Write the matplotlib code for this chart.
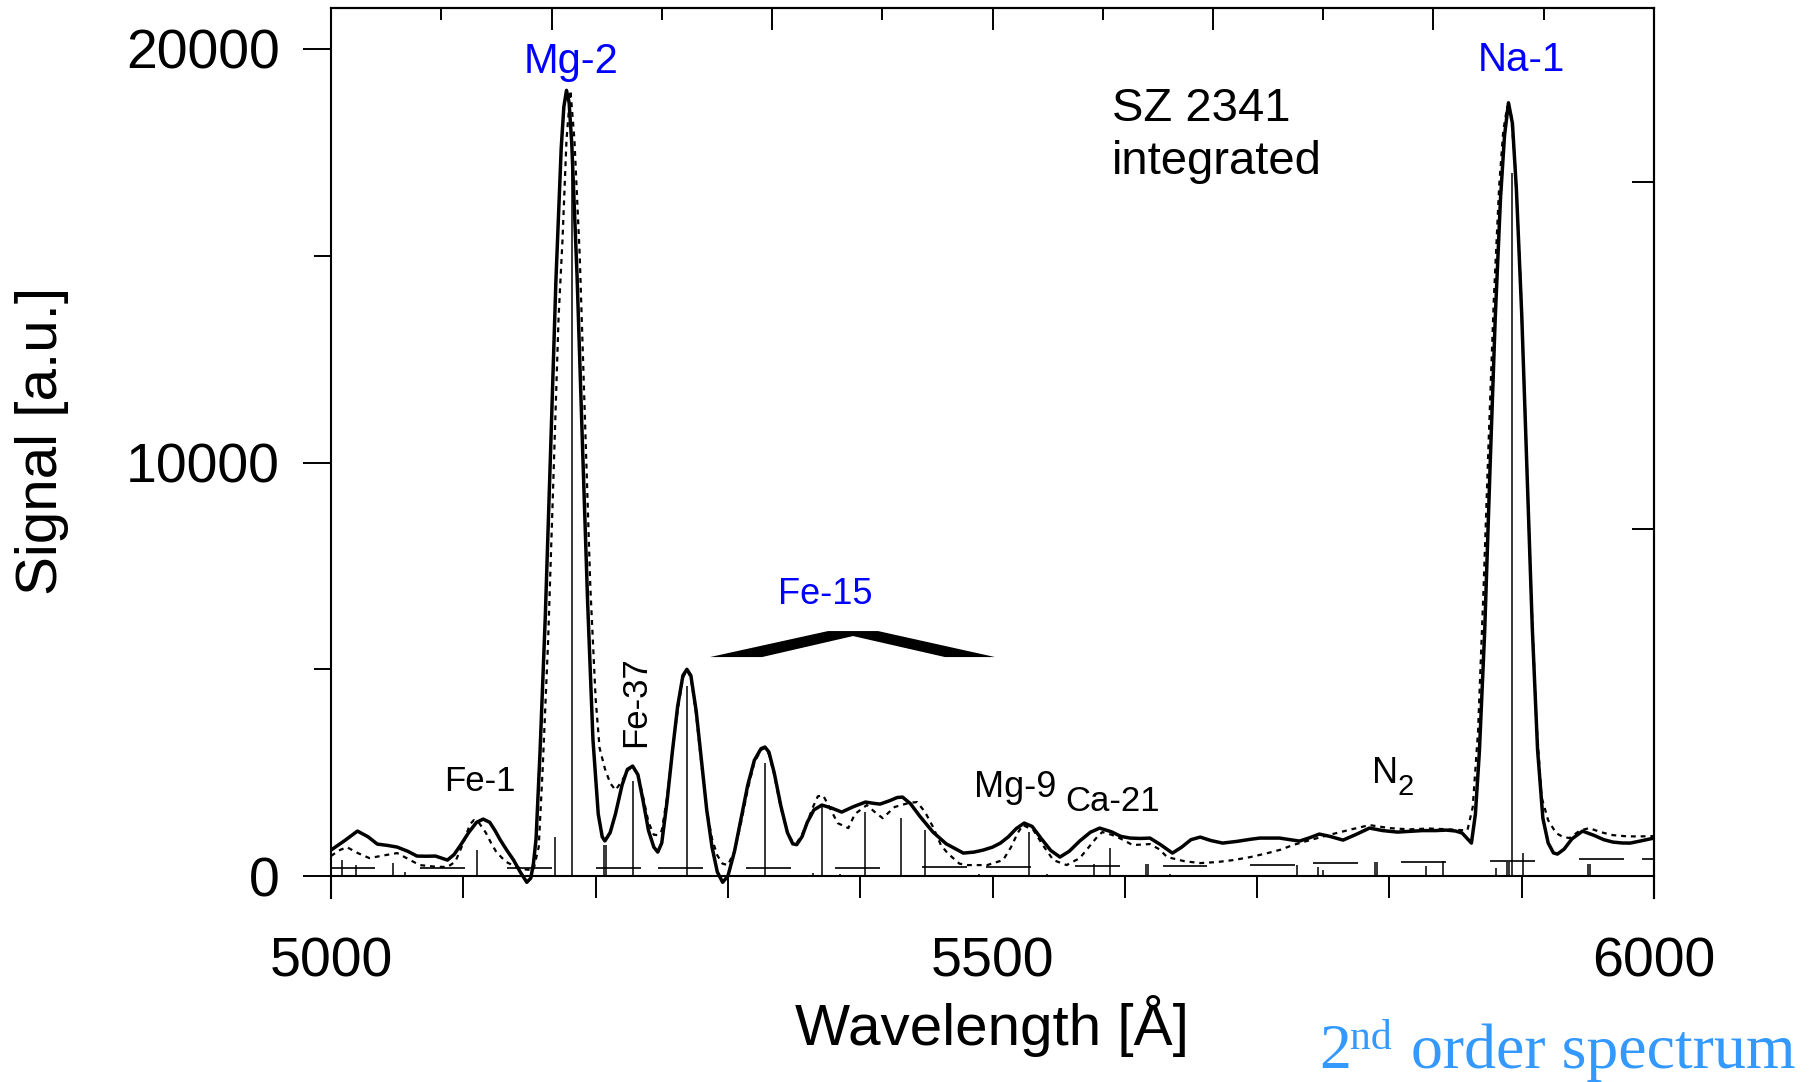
import matplotlib
matplotlib.use("Agg")
import matplotlib.pyplot as plt
import numpy as np

plt.rcParams['font.family'] = ['Liberation Sans', 'DejaVu Sans']

# ---------------- data ----------------
solid_pts = [
    (5000, 629), (5010, 850), (5020, 1088), (5028, 950), (5035, 774), (5043, 740),
    (5050, 701), (5058, 600), (5065, 484), (5072, 480), (5079, 484), (5085, 420),
    (5088, 387), (5093, 520), (5098, 750), (5104, 1050), (5110, 1300), (5115, 1378),
    (5120, 1300), (5124, 1100), (5128, 870), (5133, 620), (5138, 387), (5143, 100),
    (5148, -150), (5151, -50), (5153, 300), (5155, 900), (5158, 3000), (5162, 6300),
    (5166, 10300), (5170, 14400), (5174, 17600), (5176, 18600), (5178, 19000),
    (5180, 18700), (5182, 17700), (5186, 14500), (5190, 10500), (5194, 6600),
    (5198, 3300), (5202, 1500), (5205, 950), (5207, 850), (5211, 1050), (5215, 1500),
    (5220, 2200), (5224, 2580), (5228, 2660), (5232, 2450), (5236, 1800), (5240, 1100),
    (5244, 700), (5247, 580), (5250, 800), (5254, 1800), (5258, 3000), (5262, 4100),
    (5266, 4850), (5269, 5000), (5272, 4850), (5276, 4000), (5280, 2800), (5284, 1600),
    (5288, 700), (5292, 100), (5296, -150), (5300, 0), (5305, 600), (5310, 1400),
    (5315, 2200), (5320, 2800), (5325, 3080), (5328, 3120), (5331, 3000), (5335, 2500),
    (5340, 1700), (5345, 1050), (5349, 780), (5352, 760), (5356, 950), (5360, 1300),
    (5365, 1600), (5371, 1717), (5378, 1650), (5386, 1548), (5395, 1680), (5404, 1790),
    (5410, 1760), (5415, 1741), (5422, 1820), (5428, 1900), (5432, 1910), (5438, 1750),
    (5445, 1450), (5455, 1064), (5465, 780), (5478, 556), (5486, 580), (5493, 629),
    (5500, 700), (5506, 798), (5512, 950), (5518, 1150), (5524, 1282), (5530, 1200),
    (5537, 900), (5544, 620), (5551, 460), (5558, 600), (5566, 850), (5574, 1060),
    (5581, 1161), (5590, 1070), (5597, 960), (5604, 919), (5612, 910), (5619, 919),
    (5627, 760), (5636, 556), (5643, 700), (5650, 880), (5657, 943), (5665, 860),
    (5674, 798), (5685, 840), (5695, 890), (5702, 919), (5710, 920), (5717, 919),
    (5725, 880), (5732, 846), (5740, 930), (5747, 1016), (5755, 960), (5765, 870),
    (5775, 1010), (5785, 1161), (5795, 1100), (5806, 1064), (5815, 1080), (5825, 1100),
    (5835, 1100), (5843, 1112), (5850, 1090), (5855, 1040), (5859, 900), (5862, 798),
    (5865, 1500), (5868, 3000), (5872, 5900), (5876, 9800), (5880, 13500), (5884, 16400),
    (5887, 17900), (5890, 18700), (5893, 18200), (5896, 16600), (5900, 13600),
    (5904, 9800), (5908, 6000), (5912, 3050), (5916, 1400), (5920, 800), (5924, 560),
    (5927, 532), (5932, 650), (5938, 900), (5946, 1088), (5955, 980), (5962, 880),
    (5969, 822), (5976, 800), (5982, 798), (5990, 850), (6000, 919),
]

dotted_pts = [
    (5000, 484), (5006, 620), (5012, 700), (5020, 560), (5029, 435), (5040, 500),
    (5050, 556), (5058, 420), (5067, 266), (5078, 230), (5088, 218), (5094, 350),
    (5100, 800), (5105, 1250), (5108, 1354), (5112, 1280), (5117, 1050), (5121, 800),
    (5125, 580), (5132, 350), (5140, 218), (5147, 160), (5153, 145), (5157, 700),
    (5160, 2600), (5164, 5600), (5168, 9500), (5172, 13500), (5175, 15400),
    (5178, 17800), (5181, 19000), (5184, 17800), (5188, 15000), (5192, 11000),
    (5196, 7000), (5200, 4300), (5203, 3100), (5207, 2600), (5211, 2250), (5215, 2080),
    (5220, 2300), (5224, 2550), (5228, 2650), (5232, 2450), (5236, 1900), (5240, 1300),
    (5244, 1000), (5247, 990), (5250, 1100), (5254, 1900), (5258, 3000), (5262, 4000),
    (5266, 4800), (5269, 4980), (5272, 4800), (5276, 3900), (5280, 2700), (5284, 1600),
    (5288, 900), (5292, 500), (5296, 300), (5300, 266), (5305, 600), (5310, 1300),
    (5315, 2100), (5320, 2750), (5325, 3050), (5328, 3100), (5331, 2950), (5335, 2450),
    (5340, 1650), (5345, 1050), (5349, 820), (5352, 800), (5356, 1000), (5360, 1300),
    (5364, 1650), (5368, 1930), (5372, 1950), (5377, 1650), (5383, 1280), (5391, 1160),
    (5396, 1500), (5405, 1717), (5411, 1550), (5417, 1400), (5426, 1670), (5437, 1770),
    (5443, 1790), (5449, 1550), (5455, 1190), (5461, 750), (5466, 556), (5475, 300),
    (5481, 266), (5496, 266), (5508, 387), (5514, 700), (5519, 1040), (5523, 1233),
    (5531, 1110), (5538, 750), (5546, 387), (5556, 266), (5566, 435), (5574, 750),
    (5579, 943), (5583, 1064), (5590, 1000), (5596, 919), (5606, 750), (5612, 760),
    (5619, 774), (5626, 650), (5632, 460), (5645, 360), (5657, 314), (5670, 340),
    (5682, 387), (5695, 460), (5708, 556), (5718, 640), (5727, 750), (5740, 870),
    (5755, 1000), (5770, 1120), (5785, 1233), (5800, 1160), (5815, 1130), (5830, 1150),
    (5845, 1130), (5855, 1110), (5859, 1110), (5863, 1670), (5867, 3500), (5871, 6800),
    (5875, 10500), (5879, 14000), (5883, 16700), (5886, 18000), (5889, 18600),
    (5892, 18400), (5895, 17200), (5899, 14500), (5903, 10800), (5907, 7000),
    (5911, 3800), (5915, 1910), (5920, 1350), (5926, 1040), (5931, 950), (5936, 919),
    (5944, 1100), (5951, 1160), (5960, 1060), (5969, 990), (5980, 960), (5990, 960),
    (6000, 967),
]

# line positions (stick spectrum): wavelength, relative height
stick_wl = [5008, 5019, 5047, 5056, 5110, 5169, 5182, 5206, 5207.5, 5228, 5269, 5328,
            5364, 5371, 5385, 5404, 5431, 5449, 5490, 5527.5, 5541, 5577, 5589, 5616,
            5617.5, 5634, 5730, 5746, 5750, 5789, 5790.5, 5828, 5840.5, 5880.5, 5889,
            5890.3, 5892.7, 5901, 5950, 5952]
stick_h = [387, 266, 314, 97, 629, 943, 17500, 750, 750, 2300, 4600, 2730,
           70, 1700, 60, 1548, 1400, 1112, 60, 1064, 60, 290, 677, 290,
           290, 60, 266, 218, 145, 338, 338, 242, 363, 194, 338,
           338, 17000, 556, 290, 290]

# background level segments: start, end, level
bg_start = [5001, 5067, 5133, 5200, 5247, 5314, 5381, 5447, 5495, 5562, 5629, 5695,
            5742, 5809, 5876, 5943, 5991]
bg_end = [5033, 5101, 5167, 5234, 5281, 5348, 5415, 5481, 5529, 5596, 5662, 5729,
          5776, 5843, 5910, 5977, 6000]
bg_level = [193, 193, 193, 200, 200, 200, 200, 210, 220, 240, 250, 266,
            314, 338, 363, 411, 411]

# Fe-15 multiplet bracket (outline)
bracket_x = [5286.5, 5375.7, 5413.5, 5501.9, 5464.1, 5394.6, 5325.8]
bracket_y = [5296, 5925, 5925, 5296, 5296, 5804, 5296]

x_major = [5000, 5500, 6000]
y_major = [0, 10000, 20000]
y_minor = [5000, 15000]
right_ticks = [8392, 16784]

# ---------------- figure ----------------
W, H = 1814, 1082
fig = plt.figure(figsize=(W / 100, H / 100), dpi=100)
ax = fig.add_axes([331 / W, 1 - 898 / H, (1654 - 331) / W, (898 - 8) / H])

s_wl, s_sig = zip(*solid_pts)
d_wl, d_sig = zip(*dotted_pts)

ax.hlines(bg_level, bg_start, bg_end, color='#222222', lw=1.4)
ax.vlines(stick_wl, 0, stick_h, color='black', lw=1.1)
ax.plot(d_wl, d_sig, color='black', lw=1.6, linestyle=(0, (2.2, 2.2)))
ax.plot(s_wl, s_sig, color='black', lw=2.5, solid_joinstyle='round')
ax.fill(bracket_x, bracket_y, color='black', lw=0)

ax.set_xlim(5000, 6000)
ax.set_ylim(-530, 20991)

for sp in ax.spines.values():
    sp.set_linewidth(1.5)
ax.spines['bottom'].set_position(('data', 0))

ax.set_xticks(x_major)
ax.set_xticks(np.arange(5000, 6001, 100), minor=True)
ax.set_xticklabels([str(v) for v in x_major])
ax.set_yticks(y_major)
ax.set_yticks(y_minor, minor=True)
ax.set_yticklabels([str(v) for v in y_major])
ax.tick_params(axis='x', which='both', direction='out', length=15.8, width=1.4,
               labelsize=40, pad=28, top=False)
ax.tick_params(axis='y', which='major', direction='out', length=20, width=1.4,
               labelsize=40, pad=17, right=False)
ax.tick_params(axis='y', which='minor', direction='out', length=12, width=1.4, right=False)

# top ticks (unlabelled scale)
top = ax.secondary_xaxis('top', functions=(lambda x: (x - 5000) / 1000 * 12,
                                           lambda k: 5000 + k * 1000 / 12))
top.set_xticks(list(range(0, 13, 2)))
top.set_xticks(list(range(1, 12, 2)), minor=True)
top.set_xticklabels([])
top.tick_params(which='major', direction='in', length=15.8, width=1.4)
top.tick_params(which='minor', direction='in', length=8.6, width=1.4)
top.spines['top'].set_linewidth(1.5)

# right ticks
rt = ax.secondary_yaxis('right', functions=(lambda y: y / right_ticks[0],
                                            lambda v: v * right_ticks[0]))
rt.set_yticks([1, 2])
rt.set_yticklabels([])
rt.tick_params(direction='in', length=15.8, width=1.4)
rt.spines['right'].set_linewidth(1.5)

blue = '#0000FF'
ax.text(5181.4, 19420, 'Mg-2', color=blue, fontsize=30, ha='center', va='baseline')
ax.text(5899.8, 19474, 'Na-1', color=blue, fontsize=29, ha='center', va='baseline')
ax.text(5373.4, 6578, 'Fe-15', color=blue, fontsize=26, ha='center', va='baseline')
ax.text(5112.6, 2056, 'Fe-1', fontsize=25, ha='center', va='baseline')
ax.text(5237.3, 3120, 'Fe-37', fontsize=25, rotation=90, rotation_mode='anchor',
        ha='left', va='baseline')
ax.text(5517, 1910, 'Mg-9', fontsize=26, ha='center', va='baseline')
ax.text(5590.7, 1572, 'Ca-21', fontsize=25, ha='center', va='baseline')
ax.text(5786.8, 2249, 'N', fontsize=26, ha='left', va='baseline')
ax.text(5806.0, 1959, '2', fontsize=21, ha='left', va='baseline')
ax.text(5590.3, 18259, 'SZ 2341', fontsize=34, ha='left', va='baseline')
ax.text(5590.3, 16980, 'integrated', fontsize=34, ha='left', va='baseline')

fig.text(992 / W, 1 - 1045 / H, 'Wavelength [Å]', fontsize=42, ha='center', va='baseline')
fig.text(42 / W, 1 - 441 / H, 'Signal [a.u.]', fontsize=42, rotation=90,
         ha='center', va='center')

light = '#3399FF'
serif = ['Liberation Serif', 'DejaVu Serif']
fig.text(1319 / W, 1 - 1068 / H, '2', fontsize=46, color=light, family=serif,
         ha='left', va='baseline')
fig.text(1350 / W, 1 - 1049 / H, 'nd', fontsize=30, color=light, family=serif,
         ha='left', va='baseline')
fig.text(1411 / W, 1 - 1068 / H, 'order spectrum', fontsize=46, color=light,
         family=serif, ha='left', va='baseline')

fig.savefig('out.png', dpi=100)
